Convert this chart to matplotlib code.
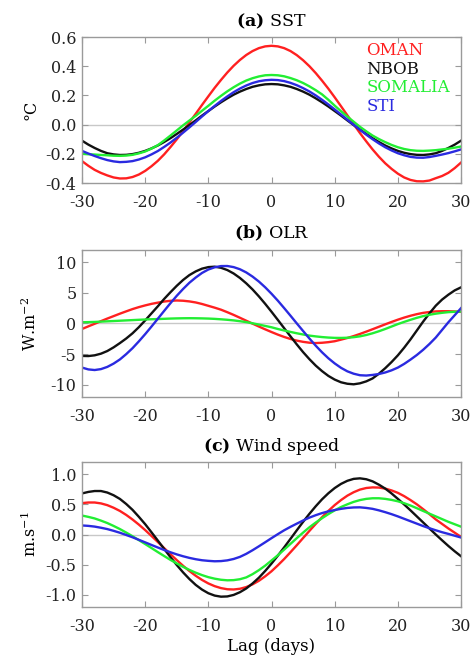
import matplotlib
matplotlib.use("Agg")
import matplotlib.pyplot as plt
from matplotlib.ticker import FormatStrFormatter

plt.rcParams["font.family"] = ["DejaVu Serif"]
plt.rcParams["mathtext.fontset"] = "dejavuserif"
plt.rcParams["axes.unicode_minus"] = False

lag = list(range(-30, 31))  # days

regions = ["OMAN", "NBOB", "SOMALIA", "STI"]
colors = ["#ff2020", "#111111", "#22ee33", "#2a2ae0"]

# (a) SST anomalies, degC
oman_sst = [-0.25, -0.282, -0.31, -0.331, -0.348, -0.362, -0.369, -0.368, -0.359, -0.342,
            -0.317, -0.285, -0.248, -0.204, -0.154, -0.101, -0.045, 0.015, 0.074, 0.135,
            0.194, 0.252, 0.306, 0.357, 0.403, 0.443, 0.477, 0.504, 0.524, 0.536,
            0.54, 0.536, 0.524, 0.504, 0.476, 0.441, 0.400, 0.353, 0.301, 0.246,
            0.187, 0.126, 0.064, 0.003, -0.058, -0.115, -0.170, -0.220, -0.265, -0.303,
            -0.336, -0.362, -0.379, -0.388, -0.389, -0.383, -0.367, -0.352, -0.33, -0.298, -0.26]
nbob_sst = [-0.11, -0.137, -0.16, -0.18, -0.196, -0.204, -0.208, -0.207, -0.202, -0.193,
            -0.180, -0.163, -0.143, -0.119, -0.093, -0.064, -0.034, -0.003, 0.029, 0.062,
            0.093, 0.124, 0.153, 0.180, 0.205, 0.226, 0.244, 0.259, 0.269, 0.276,
            0.278, 0.276, 0.269, 0.259, 0.244, 0.226, 0.205, 0.180, 0.153, 0.124,
            0.093, 0.062, 0.029, -0.003, -0.034, -0.064, -0.093, -0.119, -0.143, -0.163,
            -0.180, -0.193, -0.202, -0.207, -0.208, -0.204, -0.196, -0.18, -0.16, -0.137, -0.11]
somalia_sst = [-0.20, -0.203, -0.205, -0.208, -0.21, -0.213, -0.214, -0.212, -0.207, -0.197,
               -0.184, -0.164, -0.141, -0.109, -0.075, -0.04, -0.005, 0.028, 0.06, 0.095,
               0.129, 0.164, 0.197, 0.228, 0.256, 0.281, 0.302, 0.318, 0.330, 0.338,
               0.34, 0.338, 0.331, 0.319, 0.304, 0.285, 0.262, 0.236, 0.207, 0.17,
               0.13, 0.092, 0.055, 0.02, -0.015, -0.046, -0.075, -0.099, -0.12, -0.139,
               -0.155, -0.167, -0.175, -0.179, -0.18, -0.178, -0.175, -0.17, -0.165, -0.158, -0.15]
sti_sst = [-0.18, -0.198, -0.215, -0.23, -0.243, -0.252, -0.257, -0.255, -0.250, -0.239,
           -0.224, -0.204, -0.181, -0.153, -0.123, -0.09, -0.055, -0.019, 0.018, 0.056,
           0.093, 0.128, 0.162, 0.193, 0.222, 0.247, 0.268, 0.285, 0.297, 0.304,
           0.307, 0.305, 0.298, 0.286, 0.270, 0.250, 0.227, 0.200, 0.170, 0.138,
           0.104, 0.069, 0.034, -0.001, -0.036, -0.069, -0.100, -0.129, -0.155, -0.177,
           -0.196, -0.210, -0.221, -0.226, -0.227, -0.222, -0.214, -0.205, -0.195, -0.183, -0.17]

# (b) OLR anomalies, W m-2
oman_olr = [-0.9, -0.47, -0.05, 0.38, 0.8, 1.2, 1.6, 1.98, 2.35, 2.67,
            2.95, 3.2, 3.4, 3.58, 3.7, 3.75, 3.71, 3.6, 3.43, 3.18,
            2.88, 2.58, 2.25, 1.84, 1.4, 0.93, 0.45, -0.03, -0.5, -0.96,
            -1.4, -1.82, -2.2, -2.53, -2.8, -3.0, -3.14, -3.2, -3.15, -3.05,
            -2.9, -2.64, -2.37, -2.06, -1.71, -1.33, -0.94, -0.54, -0.14, 0.25,
            0.62, 0.96, 1.26, 1.52, 1.73, 1.87, 1.97, 2.0, 2.0, 1.96, 1.9]
nbob_olr = [-5.3, -5.32, -5.2, -4.93, -4.5, -3.9, -3.2, -2.45, -1.6, -0.6,
            0.5, 1.65, 2.8, 4.0, 5.1, 6.15, 7.1, 7.9, 8.5, 8.95,
            9.2, 9.27, 9.09, 8.72, 8.16, 7.43, 6.55, 5.55, 4.42, 3.2,
            1.91, 0.58, -0.77, -2.1, -3.42, -4.68, -5.83, -6.88, -7.78, -8.56,
            -9.16, -9.6, -9.84, -9.93, -9.77, -9.45, -8.97, -8.2, -7.3, -6.3,
            -5.2, -3.95, -2.6, -1.15, 0.3, 1.65, 2.9, 3.9, 4.7, 5.4, 5.9]
somalia_olr = [0.2, 0.22, 0.25, 0.3, 0.35, 0.4, 0.45, 0.5, 0.55, 0.6,
               0.65, 0.69, 0.72, 0.76, 0.8, 0.83, 0.85, 0.86, 0.85, 0.83,
               0.8, 0.75, 0.68, 0.6, 0.5, 0.37, 0.22, 0.03, -0.18, -0.4,
               -0.62, -0.9, -1.15, -1.38, -1.6, -1.8, -1.98, -2.11, -2.22, -2.3,
               -2.35, -2.36, -2.33, -2.24, -2.1, -1.88, -1.6, -1.27, -0.9, -0.5,
               -0.1, 0.26, 0.6, 0.92, 1.2, 1.42, 1.6, 1.74, 1.85, 1.91, 1.95]
sti_olr = [-7.2, -7.5, -7.6, -7.45, -7.09, -6.55, -5.87, -5.0, -4.03, -2.92,
           -1.74, -0.5, 0.77, 2.05, 3.31, 4.52, 5.63, 6.65, 7.50, 8.25,
           8.81, 9.17, 9.37, 9.38, 9.20, 8.85, 8.33, 7.65, 6.84, 5.9,
           4.85, 3.72, 2.51, 1.27, 0.01, -1.23, -2.46, -3.63, -4.71, -5.68,
           -6.52, -7.24, -7.81, -8.2, -8.45, -8.5, -8.4, -8.25, -8.0, -7.65,
           -7.2, -6.6, -5.9, -5.15, -4.3, -3.35, -2.3, -1.05, 0.2, 1.35, 2.5]

# (c) wind speed anomalies, m s-1
oman_wind = [0.52, 0.53, 0.53, 0.515, 0.486, 0.443, 0.390, 0.324, 0.248, 0.164,
             0.073, -0.024, -0.124, -0.225, -0.326, -0.424, -0.518, -0.604, -0.683, -0.752,
             -0.810, -0.855, -0.887, -0.906, -0.91, -0.898, -0.87, -0.825, -0.766, -0.692,
             -0.608, -0.51, -0.406, -0.293, -0.177, -0.058, 0.060, 0.176, 0.287, 0.391,
             0.487, 0.570, 0.643, 0.70, 0.744, 0.77, 0.78, 0.777, 0.76, 0.73,
             0.69, 0.635, 0.57, 0.50, 0.42, 0.337, 0.25, 0.175, 0.10, 0.03, -0.04]
nbob_wind = [0.68, 0.705, 0.72, 0.72, 0.695, 0.65, 0.589, 0.505, 0.408, 0.293,
             0.171, 0.037, -0.10, -0.238, -0.375, -0.505, -0.627, -0.737, -0.834, -0.912,
             -0.972, -1.011, -1.029, -1.025, -1.00, -0.955, -0.893, -0.81, -0.715, -0.603,
             -0.481, -0.35, -0.213, -0.072, 0.07, 0.21, 0.343, 0.468, 0.583, 0.683,
             0.769, 0.838, 0.889, 0.921, 0.93, 0.915, 0.88, 0.825, 0.76, 0.68,
             0.59, 0.497, 0.40, 0.30, 0.20, 0.10, 0.0, -0.096, -0.19, -0.278, -0.36]
somalia_wind = [0.314, 0.292, 0.266, 0.23, 0.190, 0.142, 0.09, 0.032, -0.029, -0.093,
                -0.158, -0.224, -0.291, -0.356, -0.420, -0.479, -0.535, -0.586, -0.632, -0.672,
                -0.706, -0.731, -0.749, -0.758, -0.755, -0.74, -0.71, -0.656, -0.59, -0.515,
                -0.43, -0.343, -0.25, -0.155, -0.06, 0.032, 0.12, 0.198, 0.27, 0.338,
                0.40, 0.455, 0.50, 0.54, 0.57, 0.59, 0.60, 0.60, 0.59, 0.573,
                0.55, 0.518, 0.48, 0.436, 0.39, 0.345, 0.30, 0.255, 0.21, 0.17, 0.13]
sti_wind = [0.15, 0.143, 0.131, 0.112, 0.090, 0.061, 0.029, -0.008, -0.046, -0.088,
            -0.130, -0.173, -0.215, -0.256, -0.294, -0.329, -0.360, -0.387, -0.409, -0.426,
            -0.436, -0.443, -0.44, -0.428, -0.405, -0.37, -0.32, -0.26, -0.195, -0.128,
            -0.06, 0.006, 0.07, 0.127, 0.18, 0.232, 0.28, 0.32, 0.355, 0.383,
            0.405, 0.425, 0.44, 0.448, 0.45, 0.44, 0.425, 0.4, 0.37, 0.337,
            0.30, 0.26, 0.22, 0.18, 0.14, 0.104, 0.07, 0.038, 0.01, -0.02, -0.05]

panels = [
    ("(a)", "SST", "°C", [oman_sst, nbob_sst, somalia_sst, sti_sst],
     (-0.4, 0.6), [-0.4, -0.2, 0.0, 0.2, 0.4, 0.6], "%.1f"),
    ("(b)", "OLR", "W.m$^{-2}$", [oman_olr, nbob_olr, somalia_olr, sti_olr],
     (-12, 12), [-10, -5, 0, 5, 10], "%d"),
    ("(c)", "Wind speed", "m.s$^{-1}$", [oman_wind, nbob_wind, somalia_wind, sti_wind],
     (-1.2, 1.2), [-1.0, -0.5, 0.0, 0.5, 1.0], "%.1f"),
]

fig = plt.figure(figsize=(4.73, 6.59), dpi=100)
boxes = [[0.1734, 0.7223, 0.8013, 0.2215],
         [0.1734, 0.3976, 0.8013, 0.2231],
         [0.1734, 0.0789, 0.8013, 0.2200]]

frame = "#9a9a9a"
for box, (tag, name, unit, series, ylim, yticks, fmt) in zip(boxes, panels):
    ax = fig.add_axes(box)
    ax.axhline(0, color="#c8c8c8", lw=1.0, zorder=1)
    for vals, c in zip(series, colors):
        ax.plot(lag, vals, color=c, lw=1.7, zorder=2)
    ax.set_xlim(-30, 30)
    ax.set_ylim(*ylim)
    ax.set_xticks([-30, -20, -10, 0, 10, 20, 30])
    ax.set_yticks(yticks)
    ax.yaxis.set_major_formatter(FormatStrFormatter(fmt))
    ax.tick_params(direction="in", length=4, color=frame, labelsize=11.5,
                   labelcolor="#222222", top=True, right=True)
    ax.tick_params(axis="x", pad=8)
    ax.tick_params(axis="y", pad=4)
    for sp in ax.spines.values():
        sp.set_color(frame)
        sp.set_linewidth(1.0)
    ax.set_title(r"$\mathbf{" + tag + "}$ " + name, fontsize=12.5, pad=8)
    ax.set_ylabel(unit, fontsize=11.5)
    ax.yaxis.set_label_coords(-0.112, 0.5)
    if tag == "(a)":
        for i, (lab, c) in enumerate(zip(regions, colors)):
            ax.text(0.75, 0.905 - i * 0.126, lab, color=c, fontsize=12,
                    transform=ax.transAxes, ha="left", va="center")
    if tag == "(c)":
        ax.set_xlabel("Lag (days)", fontsize=12, labelpad=2)

fig.savefig("out.png", dpi=100)
